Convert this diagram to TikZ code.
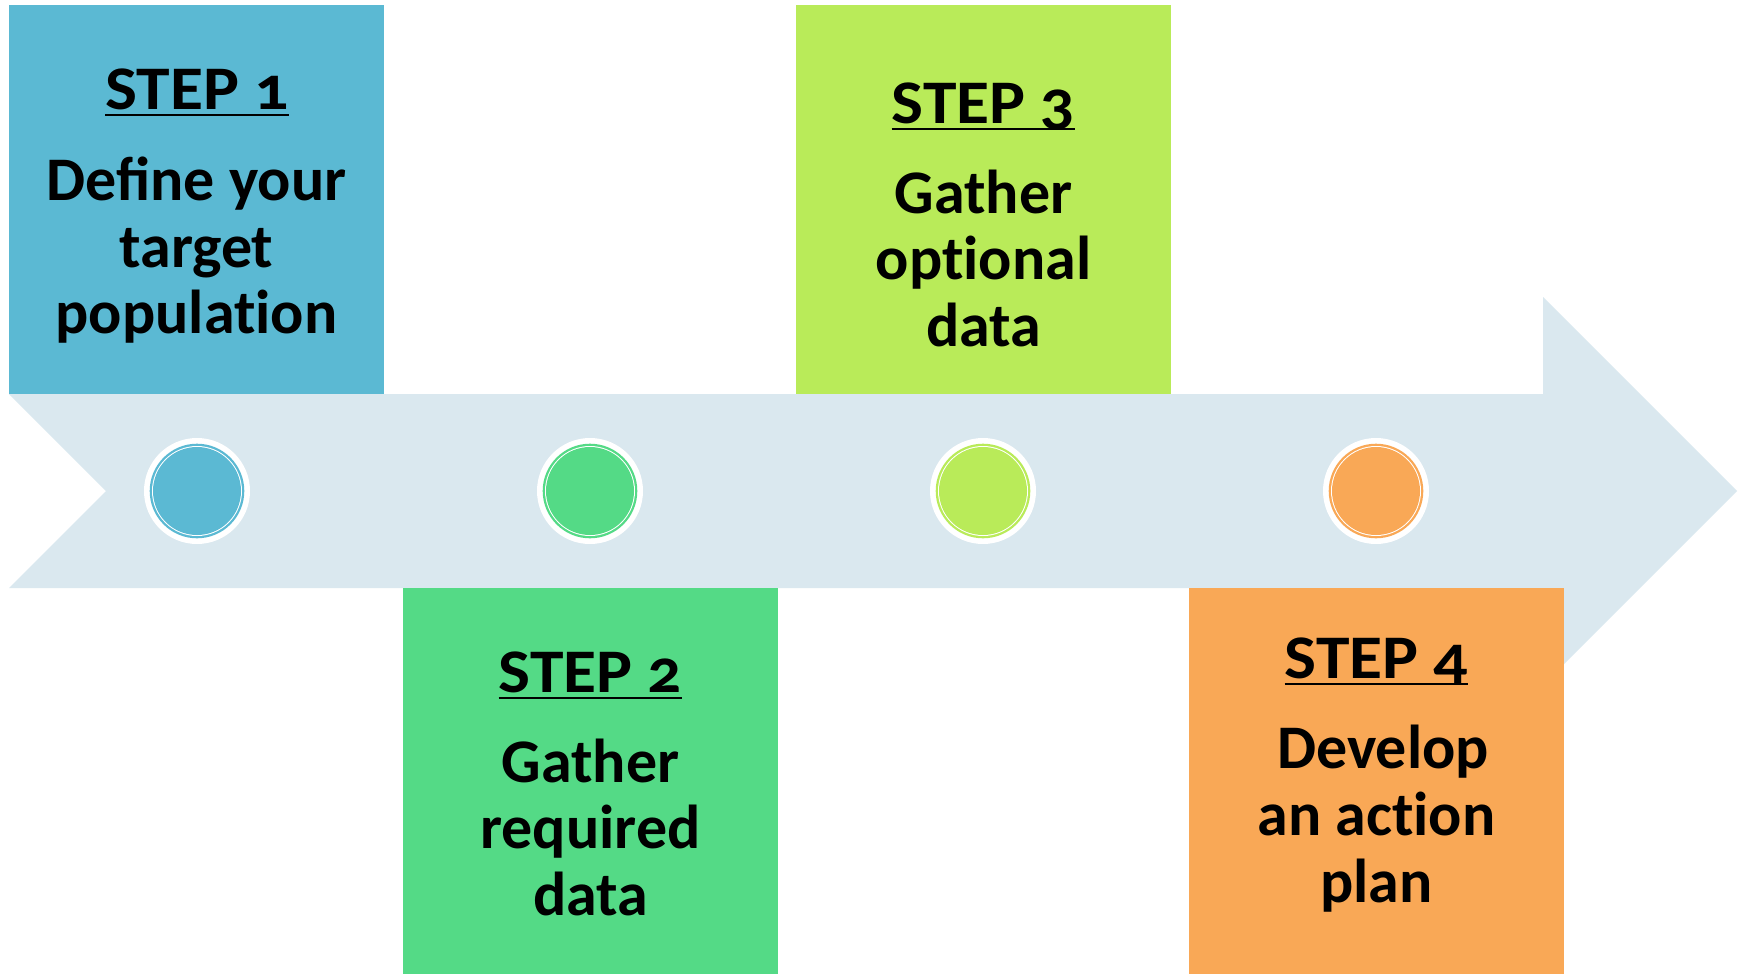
\documentclass[tikz,border=0pt]{standalone}
\usepackage{fontspec}
\setmainfont{Carlito}[Numbers=OldStyle, Ligatures=NoCommon]
\newfontfamily\ligfont{Carlito}[Numbers=OldStyle]
\definecolor{cblue}{HTML}{5BB9D3}
\definecolor{cgreen}{HTML}{54DA86}
\definecolor{clime}{HTML}{B9EB59}
\definecolor{corange}{HTML}{F9A856}
\definecolor{cband}{HTML}{DAE8EF}
\tikzset{
  stepbox/.style={rectangle, draw=none, inner sep=0pt, minimum width=375pt},
  txt/.style={anchor=base, inner sep=0pt, font=\fontsize{62}{67}\selectfont\bfseries},
  head/.style={txt, xscale=1.09, transform shape},
  uline/.style={line width=2.5pt},
  dotring/.style={circle, inner sep=0pt, draw=none},
}
\begin{document}
\begin{tikzpicture}[x=1pt,y=-1pt]
\useasboundingbox (0,0) rectangle (1745,974);
\fill[white] (0,0) rectangle (1745,974);
% arrow band
\fill[cband] (9,394) -- (1543,394) -- (1543,297) -- (1737,491) -- (1543,685) -- (1543,588) -- (9,588) -- (106,491) -- cycle;
% boxes
\node[stepbox, fill=cblue, minimum height=389pt] (b1) at (196.5,199.5) {};
\node[stepbox, fill=clime, minimum height=389pt] (b3) at (983.5,199.5) {};
\node[stepbox, fill=cgreen, minimum height=386pt] (b2) at (590.5,781) {};
\node[stepbox, fill=corange, minimum height=386pt] (b4) at (1376.5,781) {};
% box 1 text
\node[head] (h1) at (197,109) {STEP 1};
\draw[uline] ([yshift=-6pt]h1.base west) -- ([yshift=-6pt]h1.base east);
\node[txt] (t1a) at (196.5,200) {\ligfont Define your};
\node[txt] (t1b) at (196.5,267) {target};
\node[txt] (t1c) at (196.5,333) {population};
% box 3 text
\node[head] (h3) at (983.5,123) {STEP 3};
\draw[uline] ([yshift=-6pt]h3.base west) -- ([yshift=-6pt]h3.base east);
\node[txt] (t3a) at (983.5,213) {Gather};
\node[txt] (t3b) at (983.5,279) {optional};
\node[txt] (t3c) at (983.5,346) {data};
% box 2 text
\node[head] (h2) at (590.5,692) {STEP 2};
\draw[uline] ([yshift=-6pt]h2.base west) -- ([yshift=-6pt]h2.base east);
\node[txt] (t2a) at (590.5,782) {Gather};
\node[txt] (t2b) at (590.5,848) {required};
\node[txt] (t2c) at (590.5,915) {data};
% box 4 text
\node[head] (h4) at (1376.5,678) {STEP 4};
\draw[uline] ([yshift=-6pt]h4.base west) -- ([yshift=-6pt]h4.base east);
\node[txt] (t4a) at (1383,768) {Develop};
\node[txt] (t4b) at (1376.5,835) {an action};
\node[txt] (t4c) at (1376.5,902) {plan};
% circles
\foreach \cx/\col/\nm in {197/cblue/c1, 590/cgreen/c2, 983/clime/c3, 1376/corange/c4}{
  \node[dotring, fill=white, minimum size=106pt] (\nm) at (\cx,491) {};
  \node[dotring, fill=\col, minimum size=94.6pt] at (\nm) {};
  \node[dotring, fill=white, minimum size=90pt] at (\nm) {};
  \node[dotring, fill=\col, minimum size=88pt] at (\nm) {};
}
\end{tikzpicture}
\end{document}
